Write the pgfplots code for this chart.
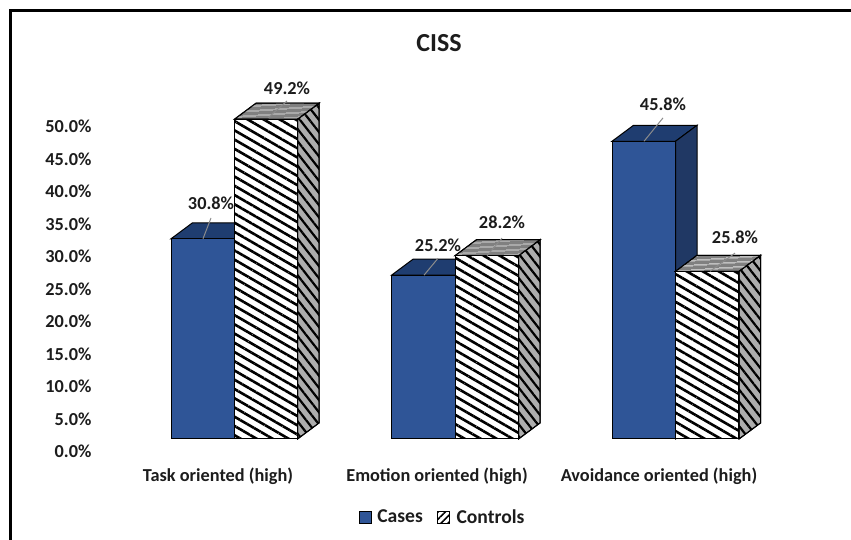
\documentclass[border=0pt]{standalone}
\usepackage{fontspec}
\setmainfont{Carlito}
\usepackage{pgfplots}
\pgfplotsset{compat=1.18}
\usetikzlibrary{patterns.meta}
\definecolor{cfront}{HTML}{2F5597}
\definecolor{cside}{HTML}{203864}
\definecolor{ctop}{HTML}{1F3D70}
\definecolor{txt}{HTML}{1C1C1C}
\tikzset{
  frontpat/.style={pattern={Lines[angle=-30,distance=8pt,line width=2.6pt]},pattern color=black},
  sidepat/.style={pattern={Lines[angle=-52,distance=7.5pt,line width=2.2pt]},pattern color=black},
  toppat/.style={pattern={Lines[angle=4,distance=4pt,line width=1.3pt]},pattern color=black!25},
  legpat/.style={pattern={Lines[angle=45,distance=5pt,line width=1.6pt]},pattern color=black},
}
\begin{document}
\begin{tikzpicture}
\begin{axis}[
  scale only axis, width=705pt, height=325pt,
  xmin=95, xmax=800, ymin=0, ymax=50,
  clip=false,
  axis line style={draw=none}, tick style={draw=none},
  font=\bfseries\color{txt},
  ytick={0,5,...,50},
  y tick label style={font=\fontsize{18.3}{20}\bfseries\selectfont\color{txt},yshift=-12.5pt,/pgf/number format/.cd,fixed,fixed zerofill,precision=1,assume math mode=true},
  yticklabel={\pgfmathprintnumber{\tick}\%},
  xtick={218,437,659},
  xticklabels={Task oriented (high),Emotion oriented (high),Avoidance oriented (high)},
  x tick label style={font=\fontsize{18.3}{20}\bfseries\selectfont\color{txt},yshift=-25pt},
  legend style={at={(axis cs:442.5,-12.05)},anchor=center,draw=none,fill=none,legend columns=2,
    font=\fontsize{19.6}{22}\bfseries\selectfont\color{txt},
    /tikz/every odd column/.append style={column sep=4pt},
    /tikz/every even column/.append style={column sep=12pt}},
  legend image code/.code={\draw[#1] (0pt,-6pt) rectangle (12pt,6pt);},
]
\addlegendimage{fill=cfront,draw=black,line width=0.8pt}
\addlegendentry{Cases}
\addlegendimage{fill=white,draw=black,line width=0.8pt,postaction={legpat}}
\addlegendentry{Controls}

% Cases: side and top faces
\addplot[forget plot,fill=ctop,draw=black,line width=1pt] coordinates {(171,30.8)(192.5,33.26)(256,33.26)(234.5,30.8)} --cycle;
\addplot[forget plot,fill=ctop,draw=black,line width=1pt] coordinates {(391.5,25.2)(413,27.66)(476.5,27.66)(455,25.2)} --cycle;
\addplot[forget plot,fill=ctop,draw=black,line width=1pt] coordinates {(612,45.8)(633.5,48.26)(697,48.26)(675.5,45.8)} --cycle;
\addplot[forget plot,fill=cside,draw=black,line width=1pt] coordinates {(675.5,45.8)(697,48.26)(697,2.46)(675.5,0)} --cycle;
% Cases: front faces
\addplot[forget plot,ybar,bar width=63.5pt,bar shift=0pt,fill=cfront,draw=black,line width=1pt]
  coordinates {(202.75,30.8)(423.25,25.2)(643.75,45.8)};

% Controls: side faces
\addplot[forget plot,fill=black!32,draw=black,line width=1pt,postaction={sidepat}] coordinates {(297.5,49.2)(319,51.66)(319,2.46)(297.5,0)} --cycle;
\addplot[forget plot,fill=black!32,draw=black,line width=1pt,postaction={sidepat}] coordinates {(518.5,28.2)(540,30.66)(540,2.46)(518.5,0)} --cycle;
\addplot[forget plot,fill=black!32,draw=black,line width=1pt,postaction={sidepat}] coordinates {(739,25.8)(760.5,28.26)(760.5,2.46)(739,0)} --cycle;
% Controls: top faces
\addplot[forget plot,fill=black!50,draw=black,line width=1pt,postaction={toppat}] coordinates {(234.5,49.2)(256,51.66)(319,51.66)(297.5,49.2)} --cycle;
\addplot[forget plot,fill=black!50,draw=black,line width=1pt,postaction={toppat}] coordinates {(455,28.2)(476.5,30.66)(540,30.66)(518.5,28.2)} --cycle;
\addplot[forget plot,fill=black!50,draw=black,line width=1pt,postaction={toppat}] coordinates {(675.5,25.8)(697,28.26)(760.5,28.26)(739,25.8)} --cycle;
% Controls: front faces
\addplot[forget plot,ybar,bar width=63pt,bar shift=0pt,fill=white,draw=black,line width=1pt,postaction={frontpat}]
  coordinates {(266,49.2)(486.75,28.2)(707.25,25.8)};

% Leader lines
\addplot[forget plot,black!45,line width=1pt] coordinates {(203,30.8)(211,34.0)};
\addplot[forget plot,black!45,line width=1pt] coordinates {(268,49.4)(287,52.0)};
\addplot[forget plot,black!45,line width=1pt] coordinates {(424,25.2)(438,27.8)};
\addplot[forget plot,black!45,line width=1pt] coordinates {(487,28.2)(502,30.9)};
\addplot[forget plot,black!45,line width=1pt] coordinates {(644,45.8)(663,49.4)};
\addplot[forget plot,black!45,line width=1pt] coordinates {(710,25.8)(735,28.6)};

% Data labels
\addplot[forget plot,draw=none,mark=none,point meta=explicit symbolic,
  nodes near coords,
  every node near coord/.style={anchor=center,inner sep=0pt,font=\fontsize{18.3}{20}\bfseries\selectfont\color{txt}}]
  table[meta=lab] {
x y lab
211 36.25 30.8\%
287 54.0 49.2\%
438 29.79 25.2\%
502 33.33 28.2\%
663 51.48 45.8\%
735 31.02 25.8\%
};

\node[font=\fontsize{26}{30}\bfseries\selectfont\color{txt},anchor=center] at (axis cs:439,60.92) {CISS};

% Frame
\draw[black,line width=3pt] (axis cs:10.5,-15.54) -- (axis cs:10.5,65.85) -- (axis cs:851,65.85);
\coordinate (bbA) at (axis cs:0,-15.538);
\coordinate (bbB) at (axis cs:851,67.538);
\end{axis}
\pgfresetboundingbox
\useasboundingbox (bbA) rectangle (bbB);
\end{tikzpicture}
\end{document}
